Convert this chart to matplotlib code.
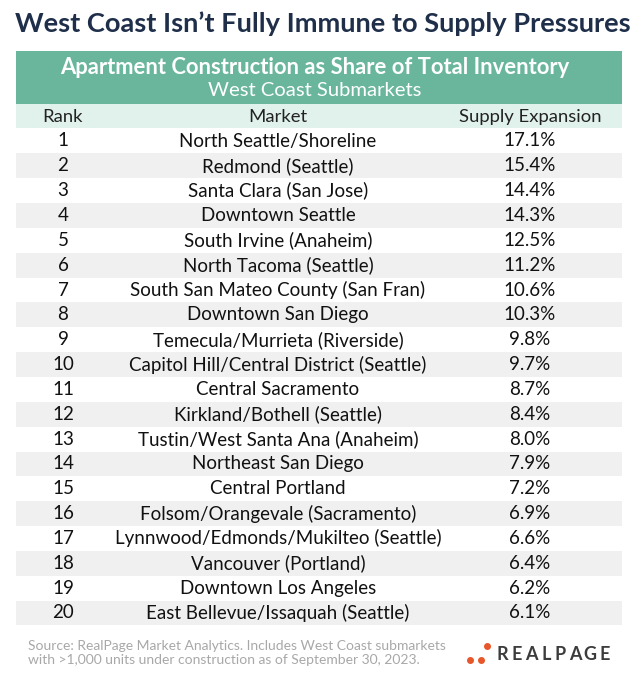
import matplotlib
matplotlib.use("Agg")
import matplotlib.pyplot as plt

ranks = list(range(1, 21))
markets = ["North Seattle/Shoreline", "Redmond (Seattle)", "Santa Clara (San Jose)", "Downtown Seattle",
           "South Irvine (Anaheim)", "North Tacoma (Seattle)", "South San Mateo County (San Fran)",
           "Downtown San Diego", "Temecula/Murrieta (Riverside)", "Capitol Hill/Central District (Seattle)",
           "Central Sacramento", "Kirkland/Bothell (Seattle)", "Tustin/West Santa Ana (Anaheim)",
           "Northeast San Diego", "Central Portland", "Folsom/Orangevale (Sacramento)",
           "Lynnwood/Edmonds/Mukilteo (Seattle)", "Vancouver (Portland)", "Downtown Los Angeles",
           "East Bellevue/Issaquah (Seattle)"]
supply = [17.1, 15.4, 14.4, 14.3, 12.5, 11.2, 10.6, 10.3, 9.8, 9.7, 8.7, 8.4, 8.0, 7.9, 7.2, 6.9, 6.6, 6.4, 6.2, 6.1]
columns = ["Rank", "Market", "Supply Expansion"]

plt.rcParams['font.family'] = ['Lato', 'DejaVu Sans']
fig = plt.figure(figsize=(6.44, 6.86), dpi=100)
ax = fig.add_axes([0, 0, 1, 1])
ax.set_xlim(0, 644)
ax.set_ylim(686, 0)
ax.axis('off')

L, R = 16, 622
ax.text(323, 24, "West Coast Isn\u2019t Fully Immune to Supply Pressures", ha='center', va='center',
        fontsize=19.6, fontweight='bold', color='#1f2f4a')
ax.add_patch(plt.Rectangle((L, 51), R - L, 53, color='#69b69c', lw=0))
ax.text(315, 67, "Apartment Construction as Share of Total Inventory", ha='center', va='center',
        fontsize=15.8, fontweight='bold', color='white')
ax.text(315, 91, "West Coast Submarkets", ha='center', va='center', fontsize=14.6, color='white')
ax.add_patch(plt.Rectangle((L, 104), R - L, 24, color='#e1f1eb', lw=0))
colx = [63, 278, 530]
for x, c in zip(colx, columns):
    ax.text(x, 117, c, ha='center', va='center', fontsize=13.3, color='#222222')

y0, dy = 141, 24.84
ys = [y0 + dy * i for i in range(len(ranks))]
shade = [i % 2 == 1 for i in range(len(ranks))]
ax.barh([y for y, s in zip(ys, shade) if s], R - L, left=L, height=dy, color='#f0f0f0', lw=0)
for y, r, m, s in zip(ys, ranks, markets, supply):
    ax.text(colx[0], y, str(r), ha='center', va='center', fontsize=13.5, color='#111111')
    ax.text(colx[1], y, m, ha='center', va='center', fontsize=13.5, color='#111111')
    ax.text(colx[2], y, f"{s:.1f}%", ha='center', va='center', fontsize=13.5, color='#111111')

ax.text(28, 653, "Source: RealPage Market Analytics. Includes West Coast submarkets\nwith >1,000 units under construction as of September 30, 2023.",
        ha='left', va='center', fontsize=10, color='#a8a8a8', linespacing=1.3)
ax.scatter([470, 481, 487], [660, 660, 646], s=16, color='#e8572a', zorder=3)
for i, ch in enumerate("REALPAGE"):
    ax.text(502 + i * 14.6, 655, ch, ha='center', va='center', fontsize=13, fontweight='bold',
            color='#3c3c3c')
fig.savefig("out.png", dpi=100)
